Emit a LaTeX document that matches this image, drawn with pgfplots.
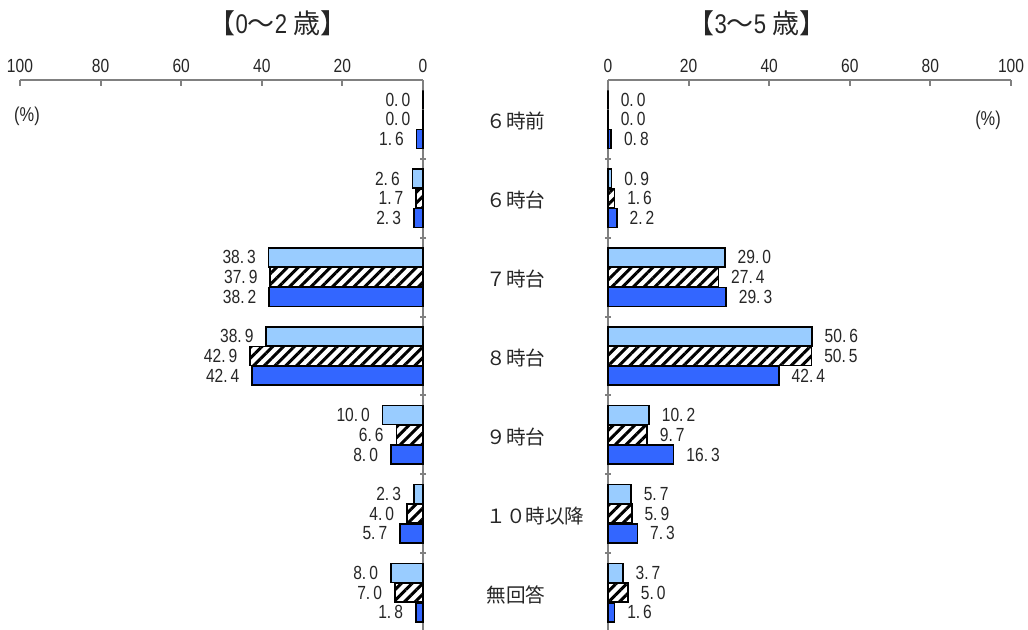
\documentclass[border=0pt]{standalone}
\usepackage{fontspec}
\setmainfont{Liberation Sans}[FakeStretch=0.82]
\newfontfamily\cjk{Noto Sans CJK JP}
\usepackage{pgfplots}
\pgfplotsset{compat=1.18}
\usetikzlibrary{patterns.meta}

\definecolor{lblue}{HTML}{99CCFF}
\definecolor{dblue}{HTML}{3366FF}
\definecolor{axgray}{HTML}{808080}

\pgfplotsset{
  halfax/.style={
    scale only axis, width=201.5pt, height=276pt,
    xmin=0, xmax=100, ymin=-0.5, ymax=6.5, y dir=reverse,
    xtick={0,20,...,100}, ytick={0.5,1.5,...,5.5}, yticklabels={},
    axis x line=top,
    axis line style={-, draw=axgray, line width=1pt},
    tick style={draw=axgray, line width=1pt},
    major tick length=3pt, tick align=inside,
    tick label style={font=\fontsize{9.5}{10}\selectfont, text=black!85},
    /pgf/number format/assume math mode=true,
    xbar, bar width=0.24,
    clip=false,
    nodes near coords={\pgfmathprintnumber[fixed,fixed zerofill,precision=1,dec sep={.\kern1.5pt}]{\pgfplotspointmeta}},
    every node near coord/.append style={font=\fontsize{9.5}{10}\selectfont, text=black!85, inner sep=0pt},
  },
  lb/.style={fill=lblue, draw=black, line width=0.8pt, bar shift=0pt},
  ht/.style={draw=black, line width=0.8pt, fill=white, bar shift=0pt,
    postaction={pattern={Lines[angle=45,distance=3.8pt,line width=1.5pt]}, pattern color=black}},
  db/.style={fill=dblue, draw=black, line width=0.8pt, bar shift=0pt},
}

\begin{document}
\begin{tikzpicture}
\useasboundingbox (0,-315pt) rectangle (514pt,0);

% 0-2 years
\begin{axis}[halfax, at={(10pt,-40pt)}, anchor=north west,
  x dir=reverse, axis y line=right,
  y axis line style={-},
  every node near coord/.append style={anchor=east, xshift=-6pt}]
\addplot[lb] coordinates {(0.0,-0.25) (2.6,0.75) (38.3,1.75) (38.9,2.75) (10.0,3.75) (2.3,4.75) (8.0,5.75)};
\addplot[ht] coordinates {(0.0,0) (1.7,1) (37.9,2) (42.9,3) (6.6,4) (4.0,5) (7.0,6)};
\addplot[db] coordinates {(1.6,0.25) (2.3,1.25) (38.2,2.25) (42.4,3.25) (8.0,4.25) (5.7,5.25) (1.8,6.25)};
\begin{scope}[every node/.style={anchor=west, inner sep=0pt, font=\cjk\fontsize{9.8}{11}\selectfont, text=black!85}]
\node at ([xshift=31.5pt,yshift=-1pt]axis cs:0,0) {６時前};
\node at ([xshift=31.5pt,yshift=-1pt]axis cs:0,1) {６時台};
\node at ([xshift=31.5pt,yshift=-1pt]axis cs:0,2) {７時台};
\node at ([xshift=31.5pt,yshift=-1pt]axis cs:0,3) {８時台};
\node at ([xshift=31.5pt,yshift=-1pt]axis cs:0,4) {９時台};
\node at ([xshift=31.5pt,yshift=-1pt]axis cs:0,5) {１０時以降};
\node at ([xshift=31.5pt,yshift=-1pt]axis cs:0,6) {無回答};
\end{scope}
\end{axis}

% 3-5 years
\begin{axis}[halfax, at={(304pt,-40pt)}, anchor=north west,
  axis y line=left,
  y axis line style={-},
  every node near coord/.append style={anchor=west, xshift=6pt}]
\addplot[lb] coordinates {(0.0,-0.25) (0.9,0.75) (29.0,1.75) (50.6,2.75) (10.2,3.75) (5.7,4.75) (3.7,5.75)};
\addplot[ht] coordinates {(0.0,0) (1.6,1) (27.4,2) (50.5,3) (9.7,4) (5.9,5) (5.0,6)};
\addplot[db] coordinates {(0.8,0.25) (2.2,1.25) (29.3,2.25) (42.4,3.25) (16.3,4.25) (7.3,5.25) (1.6,6.25)};
\end{axis}

\node[font=\fontsize{13.5}{15}\selectfont, text=black!85] at (139pt,-11.5pt) {{\cjk 【}0{\cjk ～}2 {\cjk 歳】}};
\node[font=\fontsize{13.5}{15}\selectfont, text=black!85] at (378.5pt,-11.5pt) {{\cjk 【}3{\cjk ～}5 {\cjk 歳】}};
\node[font=\fontsize{10}{11}\selectfont, text=black!85] at (13.5pt,-58pt) {(\%)};
\node[font=\fontsize{10}{11}\selectfont, text=black!85] at (494pt,-60pt) {(\%)};
\end{tikzpicture}
\end{document}
